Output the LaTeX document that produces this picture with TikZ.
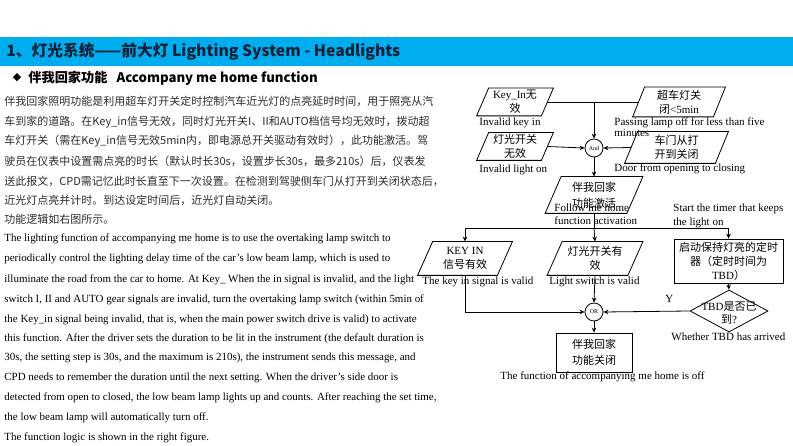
\documentclass[tikz,border=0pt]{standalone}
\usepackage{fontspec}
\setmainfont{Liberation Serif}
\newfontfamily\cjk{Noto Sans CJK SC}
\newfontfamily\symf{DejaVu Sans}
\usetikzlibrary{shapes.geometric,arrows.meta}
\definecolor{hdrblue}{RGB}{0,174,239}
\definecolor{hdrtext}{RGB}{18,32,56}
\definecolor{bodygray}{RGB}{45,45,45}
\newcommand\zh[1]{{\cjk #1}}
\begin{document}
\begin{tikzpicture}[x=1pt,y=-1pt,line width=0.8pt,
  zhline/.style={anchor=west,inner sep=0pt,text=bodygray,font=\cjk\fontsize{11}{13}\selectfont},
  enline/.style={anchor=west,inner sep=0pt,font=\fontsize{10.95}{12}\selectfont},
  lbl/.style={anchor=west,inner sep=0pt,align=left,font=\fontsize{11}{13}\selectfont},
  pgbox/.style={rectangle,inner sep=0pt,align=center,font=\fontsize{11}{14}\selectfont},
  rbox/.style={draw,rectangle,inner sep=0pt,align=center,font=\fontsize{11}{14}\selectfont},
  dia/.style={draw,diamond,inner sep=0pt},
  gate/.style={draw,circle,minimum size=18pt,inner sep=0pt,font=\fontsize{6}{7}\selectfont},
  arr/.style={-{Stealth[length=5pt,width=4.5pt]}}]
\useasboundingbox (0,0) rectangle (793,446);
\fill[white] (0,0) rectangle (793,446);
\fill[hdrblue] (0,37) rectangle (793,66);
\node[anchor=west,inner sep=0pt,text=hdrtext,font=\cjk\bfseries\fontsize{15.7}{18}\selectfont] (title) at (6,52) {1、灯光系统——前大灯 Lighting System - Headlights};
\node[inner sep=0pt,font=\symf\fontsize{11}{13}\selectfont] (bullet) at (17,78) {◆};
\node[anchor=west,inner sep=0pt,font=\cjk\bfseries\fontsize{13.2}{15}\selectfont] (sub) at (28,78) {伴我回家功能\hspace{9pt}Accompany me home function};
% Chinese paragraph
\node[zhline] (zh1) at (4,101) {伴我回家照明功能是利用超车灯开关定时控制汽车近光灯的点亮延时时间，用于照亮从汽};
\node[zhline] (zh2) at (4,122) {车到家的道路。在Key\_in信号无效，同时灯光开关I、II和AUTO档信号均无效时，拨动超};
\node[zhline] (zh3) at (4,141) {车灯开关（需在Key\_in信号无效5min内，即电源总开关驱动有效时），此功能激活。驾};
\node[zhline] (zh4) at (4,161) {驶员在仪表中设置需点亮的时长（默认时长30s，设置步长30s，最多210s）后，仪表发};
\node[zhline] (zh5) at (4,181) {送此报文，CPD需记忆此时长直至下一次设置。在检测到驾驶侧车门从打开到关闭状态后，};
\node[zhline] (zh6) at (4,200) {近光灯点亮并计时。到达设定时间后，近光灯自动关闭。};
\node[zhline] (zh7) at (4,219) {功能逻辑如右图所示。};
% English paragraph
\node[enline] (en1) at (4,239) {The lighting function of accompanying me home is to use the overtaking lamp switch to};
\node[enline] (en2) at (4,259) {periodically control the lighting delay time of the car's low beam lamp, which is used to};
\node[enline] (en3) at (4,280) {illuminate the road from the car to home. At Key\_ When the in signal is invalid, and the light};
\node[enline] (en4) at (4,300) {switch I, II and AUTO gear signals are invalid, turn the overtaking lamp switch (within 5min of};
\node[enline] (en5) at (4,320) {the Key\_in signal being invalid, that is, when the main power switch drive is valid) to activate};
\node[enline] (en6) at (4,339) {this function. After the driver sets the duration to be lit in the instrument (the default duration is};
\node[enline] (en7) at (4,358) {30s, the setting step is 30s, and the maximum is 210s), the instrument sends this message, and};
\node[enline] (en8) at (4,378) {CPD needs to remember the duration until the next setting. When the driver's side door is};
\node[enline] (en9) at (4,398) {detected from open to closed, the low beam lamp lights up and counts. After reaching the set time,};
\node[enline] (en10) at (4,418) {the low beam lamp will automatically turn off.};
\node[enline] (en11) at (4,438) {The function logic is shown in the right figure.};
% Flowchart nodes
\node[pgbox,minimum width=64pt,minimum height=27pt] (p1) at (515,102) {Key\_In\zh{无}\\\zh{效}};
\node[pgbox,minimum width=64pt,minimum height=27pt] (p2) at (515,146.5) {\zh{灯光开关}\\\zh{无效}};
\node[pgbox,minimum width=80pt,minimum height=29pt] (p3) at (679,102) {\zh{超车灯关}\\\zh{闭}<5min};
\node[pgbox,minimum width=90pt,minimum height=31pt] (p4) at (676.5,147.5) {\zh{车门从打}\\\zh{开到关闭}};
\node[gate] (and) at (594,148) {And};
\node[pgbox,minimum width=81pt,minimum height=36pt,font=\fontsize{11}{16}\selectfont] (p5) at (594,195) {\zh{伴我回家}\\\zh{功能激活}};
\node[pgbox,minimum width=79pt,minimum height=33pt] (p6) at (465,258.5) {KEY IN\\\zh{信号有效}};
\node[pgbox,minimum width=80pt,minimum height=33pt] (p7) at (595,258.5) {\zh{灯光开关有}\\\zh{效}};
\node[rbox,minimum width=109pt,minimum height=44pt] (r1) at (728.5,261) {\zh{启动保持灯亮的定时}\\\zh{器（定时时间为}\\TBD\zh{）}};
\node[dia,minimum width=78pt,minimum height=42pt] (d1) at (729,311) {};
\node[inner sep=0pt,align=center,font=\fontsize{11}{13}\selectfont] (d1t) at (729,313) {TBD\zh{是否已}\\\zh{到}?};
\node[gate] (or) at (594,312) {OR};
\node[rbox,minimum width=76pt,minimum height=39pt,font=\fontsize{11}{16}\selectfont] (r2) at (594,352.5) {\zh{伴我回家}\\\zh{功能关闭}};
% parallelogram outlines
\foreach \n/\s in {p1/6,p2/6,p3/6,p4/6.5,p5/8,p6/7.5,p7/7.5}{
  \draw ([xshift=\s pt]\n.north west) -- ([xshift=\s pt]\n.north east)
     -- ([xshift=-\s pt]\n.south east) -- ([xshift=-\s pt]\n.south west) -- cycle;
}
% labels
\node[lbl] (l1) at (479,122.5) {Invalid key in};
\node[lbl] (l2) at (479,170) {Invalid light on};
\node[lbl,anchor=north west,font=\fontsize{11}{11.5}\selectfont] (l3) at (614,117) {Passing lamp off for less than five\\minutes};
\node[lbl] (l4) at (614,169) {Door from opening to closing};
\node[lbl,anchor=north west,font=\fontsize{11}{13}\selectfont] (l5) at (554,203) {Follow me home\\function activation};
\node[lbl,anchor=north west,font=\fontsize{11}{14}\selectfont] (l6) at (673,203) {Start the timer that keeps\\the light on};
\node[lbl] (l7) at (422,282) {The key in signal is valid};
\node[lbl] (l8) at (549,282) {Light switch is valid};
\node[lbl] (ly) at (665,299) {Y};
\node[lbl] (l9) at (671,337) {Whether TBD has arrived};
\node[lbl] (l10) at (500,377) {The function of accompanying me home is off};
% connectors
\coordinate (j1) at (and |- p1.east);
\draw (p1.east) -- (p3.west);
\draw[arr] (j1) -- (and.north);
\draw[arr] (p2.east) -- (and.west);
\draw[arr] (p4.west) -- (and.east);
\draw[arr] (and.south) -- (p5.north);
\coordinate (br) at (594,228.5);
\draw (p5.south) -- (br);
\draw[arr] (br) -- (p7.north);
\draw (p6.north |- br) -- (r1.north |- br);
\draw[arr] (p6.north |- br) -- (p6.north);
\draw[arr] (r1.north |- br) -- (r1.north);
\draw[arr] (r1.south) -- (d1.north);
\draw[arr] (d1.west) -- (or.east);
\draw[arr] (p6.south) |- (or.west);
\draw[arr] (p7.south) -- (or.north);
\draw[arr] (or.south) -- (r2.north);
\end{tikzpicture}
\end{document}
